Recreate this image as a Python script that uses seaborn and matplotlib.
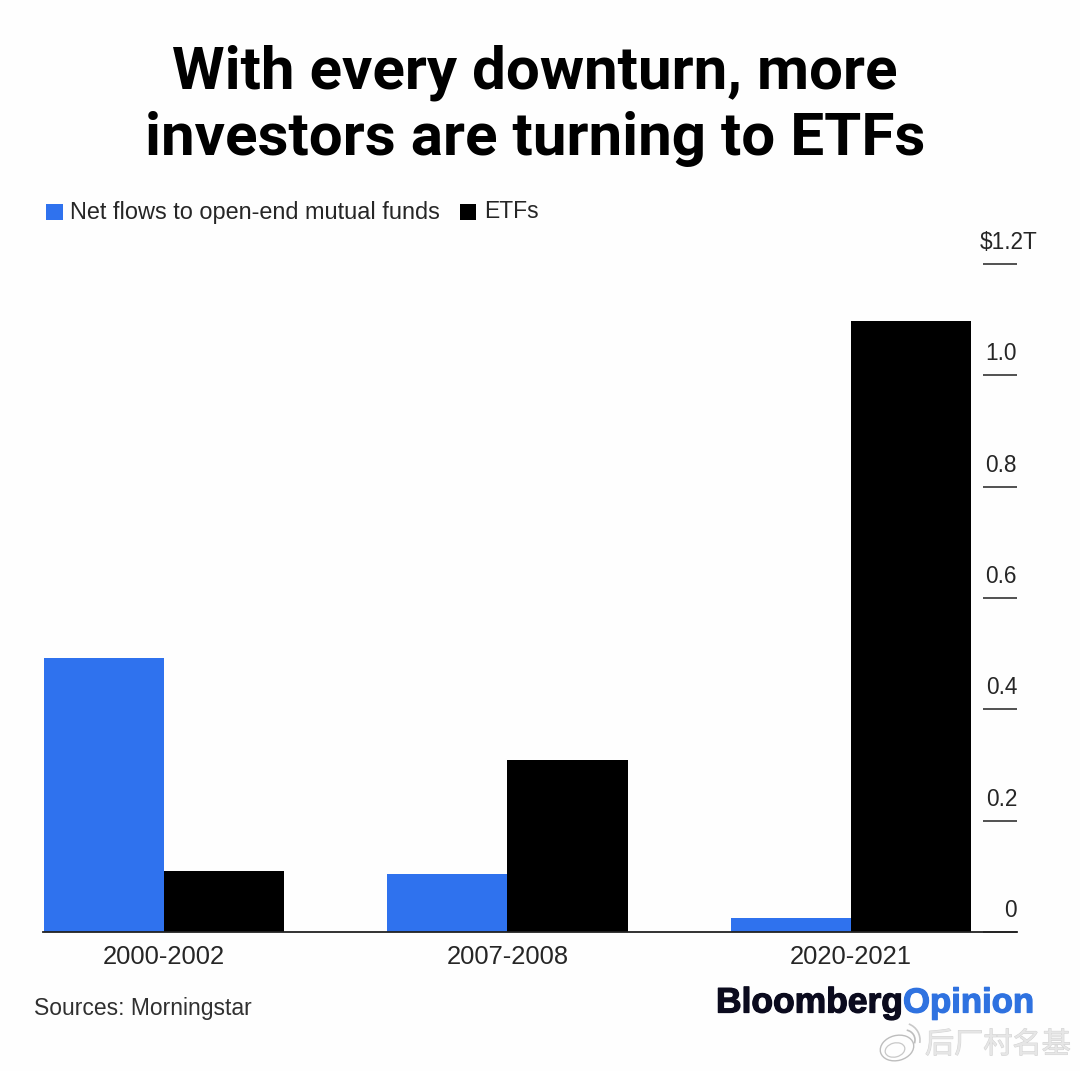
import matplotlib
matplotlib.use("Agg")
import matplotlib.pyplot as plt
import matplotlib.patheffects as pe
from matplotlib.patches import Arc, Ellipse, Rectangle
import pandas as pd
import seaborn as sns

# Values ($ trillions)
periods = ["2000-2002", "2007-2008", "2020-2021"]
mutual_funds = [0.493, 0.104, 0.025]
etfs = [0.110, 0.309, 1.098]
y_ticks = [0, 0.2, 0.4, 0.6, 0.8, 1.0, 1.2]
y_labels = ["0", "0.2", "0.4", "0.6", "0.8", "1.0", "$1.2T"]
title_lines = ["With every downturn, more", "investors are turning to ETFs"]
legend_labels = ["Net flows to open-end mutual funds", "ETFs"]

BLUE = "#2f72ee"
BLACK = "#000000"
W, H = 1080, 1071

sns.set_theme(style="white")
plt.rcParams['font.family'] = ['Liberation Sans', 'Noto Sans CJK SC', 'DejaVu Sans']
plt.rcParams['text.parse_math'] = False

df = pd.DataFrame({
    "period": periods * 2,
    "flows": mutual_funds + etfs,
    "kind": ["funds"] * 3 + ["etfs"] * 3,
})

fig = plt.figure(figsize=(W / 100, H / 100), dpi=100, facecolor="#fefefe")
ax = fig.add_axes([43 / W, 1 - 932 / H, (1017 - 43) / W, (932 - 264) / H])
ax.patch.set_alpha(0)

sns.barplot(data=df, x="period", y="flows", hue="kind", order=periods,
            palette={"funds": BLUE, "etfs": BLACK}, width=0.699, gap=0,
            saturation=1, legend=False, linewidth=0, ax=ax)

ax.set_xlim(-0.352, 2.483)
ax.set_ylim(0, 1.2)
ax.set_xlabel("")
ax.set_ylabel("")
sns.despine(ax=ax, left=True, top=True, right=True)
ax.spines["bottom"].set_linewidth(1.3)
ax.spines["bottom"].set_color("#222222")

ax.tick_params(axis="x", length=0, pad=9, labelsize=18.4, labelcolor="#262626")
ax.yaxis.tick_right()
ax.set_yticks(y_ticks)
ax.set_yticklabels([])
ax.tick_params(axis="y", which="major", direction="in", length=24.5, width=1.1,
               color="#222222", pad=0)
for tick in ax.yaxis.get_major_ticks():
    tick.tick2line.set_clip_on(False)

# value labels sit on top of their tick marks
trans = ax.get_yaxis_transform()
for val, lab in zip(y_ticks, y_labels):
    if lab.startswith("$"):
        ax.text(0.9615, val + 0.018, lab, transform=trans, ha="left", va="bottom",
                fontsize=16.3, color="#262626", clip_on=False)
    else:
        ax.text(1.0, val + 0.018, lab, transform=trans, ha="right", va="bottom",
                fontsize=16.3, color="#262626", clip_on=False)

# title, Roboto is closer to the tight tracking of the original
for line, y in zip(title_lines, [73, 139]):
    fig.text(535 / W, 1 - y / H, line, ha="center", va="center", fontsize=43.3,
             family="Roboto", fontweight="bold", color="#000000")

# legend drawn by hand so it sits above the plot like the original
fig.add_artist(Rectangle((46 / W, 1 - 220 / H), 17 / W, 16 / H, transform=fig.transFigure,
                         facecolor=BLUE, edgecolor="none"))
fig.text(70 / W, 1 - 212 / H, legend_labels[0], ha="left", va="center",
         fontsize=16.9, color="#262626")
fig.add_artist(Rectangle((460 / W, 1 - 220 / H), 16 / W, 16 / H, transform=fig.transFigure,
                         facecolor=BLACK, edgecolor="none"))
fig.text(484 / W, 1 - 212 / H, legend_labels[1], ha="left", va="center",
         fontsize=16.5, color="#262626")

# footer
fig.text(34 / W, 1 - 1009 / H, "Sources: Morningstar", ha="left", va="center",
         fontsize=16.5, color="#303030")
stroke = [pe.withStroke(linewidth=0.9, foreground="#0b0b1e")]
fig.text(716 / W, 1 - 1003 / H, "Bloomberg", ha="left", va="center", fontsize=25.5,
         fontweight="bold", color="#0b0b1e", path_effects=stroke)
stroke = [pe.withStroke(linewidth=0.9, foreground="#2f72e0")]
fig.text(903 / W, 1 - 1003 / H, "Opinion", ha="left", va="center", fontsize=25,
         fontweight="bold", color="#2f72e0", path_effects=stroke)

# watermark with a rough swirl logo
fig.text(925 / W, 1 - 1045 / H, "后厂村名基", ha="left", va="center", fontsize=21,
         color="#e6e6e6", path_effects=[pe.withStroke(linewidth=0.7, foreground="#d2d2d2")])
logo = fig.add_axes([0, 0, 1, 1], facecolor="none")
logo.set_xlim(0, W)
logo.set_ylim(H, 0)
logo.axis("off")
logo.add_patch(Ellipse((897, 1048), 34, 25, angle=-15, fill=False, ec="#bdbdbd", lw=1))
logo.add_patch(Ellipse((895, 1050), 20, 14, angle=-15, fill=False, ec="#c8c8c8", lw=0.9))
logo.add_patch(Arc((905, 1040), 20, 20, theta1=-80, theta2=20, ec="#bdbdbd", lw=1.2))
logo.add_patch(Arc((903, 1040), 34, 34, theta1=-70, theta2=10, ec="#c8c8c8", lw=1.2))

fig.savefig("out.png", dpi=100, facecolor=fig.get_facecolor())
